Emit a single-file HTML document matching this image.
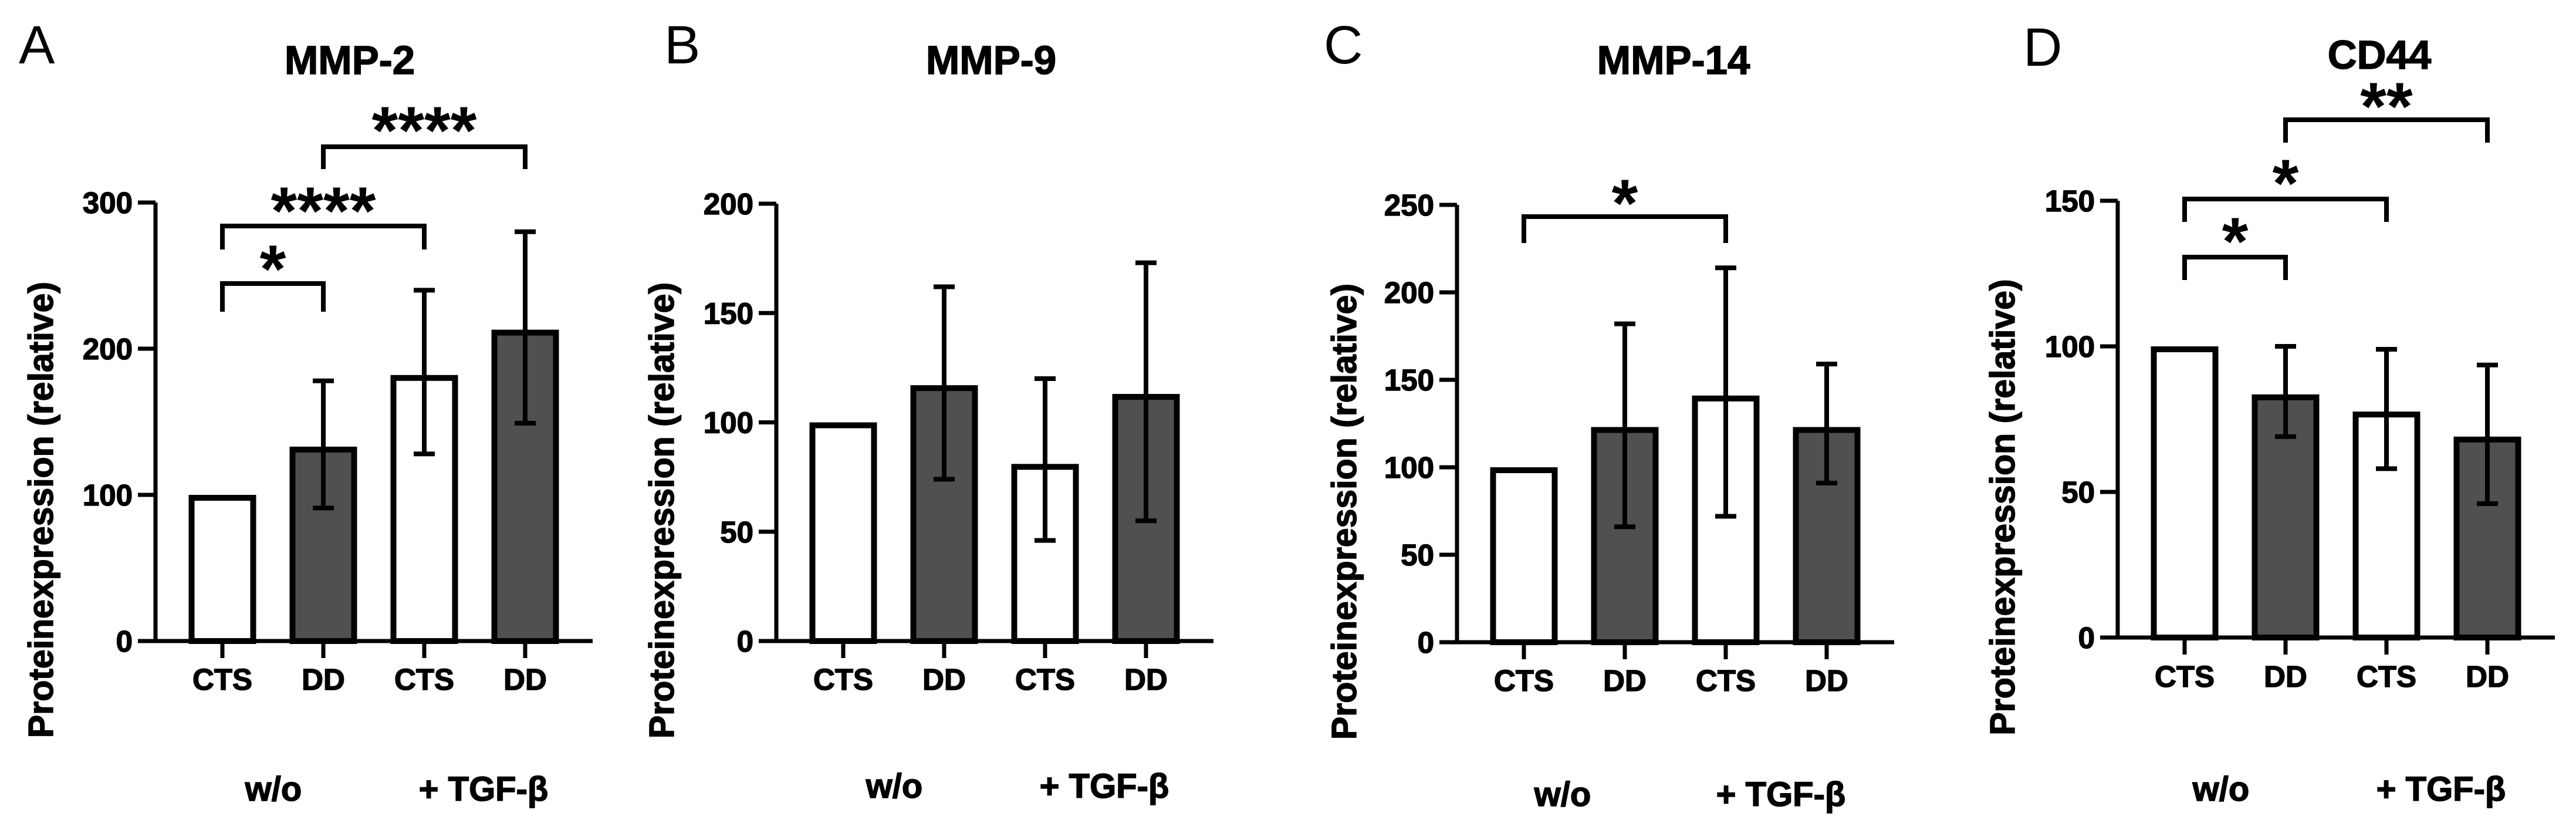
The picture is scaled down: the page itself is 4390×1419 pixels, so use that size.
<!DOCTYPE html>
<html><head><meta charset="utf-8"><style>
html,body{margin:0;padding:0;background:#fff;}
svg{display:block;font-family:"Liberation Sans",Arial,sans-serif;}
.hv{stroke:#000;stroke-width:1.5px;}
</style></head><body>
<svg id="fig" xmlns="http://www.w3.org/2000/svg" width="4390" height="1419" viewBox="0 0 4390 1419"></svg>
<script>
// ---- data ----
const categories = ["CTS","DD","CTS","DD"];
const groupLabels = ["w/o","+ TGF-\u03B2"];
const panelLetters = ["A","B","C","D"];
const panelTitles = ["MMP-2","MMP-9","MMP-14","CD44"];
const yMaxes = [300,200,250,150];
const tickA = [0,100,200,300];
const tickB = [0,50,100,150,200];
const tickC = [0,50,100,150,200,250];
const tickD = [0,50,100,150];
const meanA = [100,133,182,213];
const loA = [100,91,128,149];
const hiA = [100,178,240,280];
const meanB = [100,117,81,113];
const loB = [100,74,46,55];
const hiB = [100,162,120,173];
const meanC = [100,123,141,123];
const loC = [100,66,72,91];
const hiC = [100,182,214,159];
const meanD = [100,83.5,77.6,69];
const loD = [100,69,58,46];
const hiD = [100,100,99,93.6];
// significance brackets: [fromIndex, toIndex, label]
const sigA = [[0,1,"*"],[0,2,"****"],[1,3,"****"]];
const sigB = [];
const sigC = [[0,2,"*"]];
const sigD = [[0,1,"*"],[0,2,"*"],[1,3,"**"]];

// ---- layout ----
const layout = [
  {axisX:265, y0:1092, yTop:345, titleX:596, titleY:126, letterX:32, letterY:108, ylabX:70, woX:466, tgfX:824, grpY:1364, catY:1175,
   brk:[[483,531,432],[385,425,333],[250,288,196]]},
  {axisX:1323, y0:1092, yTop:347, titleX:1689, titleY:126, letterX:1132, letterY:108, ylabX:1128, woX:1524, tgfX:1882, grpY:1359, catY:1175, brk:[]},
  {axisX:2483, y0:1094, yTop:349, titleX:2852, titleY:126, letterX:2256, letterY:108, ylabX:2291, woX:2663, tgfX:3035, grpY:1373, catY:1177,
   brk:[[369,414,320]]},
  {axisX:3609, y0:1086, yTop:342, titleX:4055, titleY:117, letterX:3448, letterY:112, ylabX:3413, woX:3785, tgfX:4160, grpY:1364, catY:1170,
   brk:[[438,477,385],[339,378,286],[204,243,155]]}
];
const ticks=[tickA,tickB,tickC,tickD];
const means=[meanA,meanB,meanC,meanD];
const los=[loA,loB,loC,loD];
const his=[hiA,hiB,hiC,hiD];
const sigs=[sigA,sigB,sigC,sigD];

const NS="http://www.w3.org/2000/svg";
const svg=document.getElementById('fig');
function mk(tag,attrs,parent,text){
  const e=document.createElementNS(NS,tag);
  for(const k in attrs)e.setAttribute(k,attrs[k]);
  if(text!==undefined)e.textContent=text;
  parent.appendChild(e);return e;
}

for(let p=0;p<4;p++){
  const L=layout[p];
  const g=mk('g',{},svg);
  
  
  const yScale=v=>L.y0-(v/yMaxes[p])*(L.y0-L.yTop);
  const xScale=i=>L.axisX+114+i*172;

  let t=mk('text',{x:L.letterX,y:L.letterY,'font-size':92,fill:'#000'},g,panelLetters[p]);
  
  
  t=mk('text',{x:L.titleX,y:L.titleY,'font-size':69,'font-weight':'bold','text-anchor':'middle',class:'hv'},g,panelTitles[p]);
  
  
  t=mk('text',{x:0,y:0,'font-size':59,'font-weight':'bold','text-anchor':'middle',class:'hv',transform:`translate(${L.ylabX+20},${(L.y0+L.yTop)/2+150}) rotate(-90)`},g,"Proteinexpression (relative)");
  
  

  // bars
  for(let i=0;i<4;i++){
    const cx=xScale(i), top=yScale(means[p][i]);
    const r=mk('rect',{x:cx-52.5,y:top+5,width:105,height:L.y0-top-5,fill:(i%2?'#505050':'#fff'),stroke:'#000','stroke-width':10},g);
    
    
    if(his[p][i]!==los[p][i]){
      const eg=mk('g',{stroke:'#000','stroke-width':8},g);
      
      
      mk('line',{x1:cx,x2:cx,y1:yScale(his[p][i]),y2:yScale(los[p][i])},eg);
      mk('line',{x1:cx-18,x2:cx+18,y1:yScale(his[p][i]),y2:yScale(his[p][i])},eg);
      mk('line',{x1:cx-18,x2:cx+18,y1:yScale(los[p][i]),y2:yScale(los[p][i])},eg);
    }
  }
  // axes
  const ax=mk('g',{stroke:'#000','stroke-width':7},g);
  
  
  mk('line',{x1:L.axisX,x2:L.axisX,y1:yScale(yMaxes[p]),y2:L.y0+3},ax);
  mk('line',{x1:L.axisX-30,x2:L.axisX+745,y1:L.y0,y2:L.y0},ax);
  ticks[p].forEach(v=>{
    mk('line',{x1:L.axisX-30,x2:L.axisX,y1:yScale(v),y2:yScale(v)},ax);
    const tl=mk('text',{x:L.axisX-39,y:yScale(v)+18,'font-size':51,'font-weight':'bold','text-anchor':'end',class:'hv'},g,String(v));
    
    
  });
  for(let i=0;i<4;i++){
    mk('line',{x1:xScale(i),x2:xScale(i),y1:L.y0,y2:L.y0+29},ax);
    const cl=mk('text',{x:xScale(i),y:L.catY,'font-size':51,'font-weight':'bold','text-anchor':'middle',class:'hv'},g,categories[i]);
    
    
  }
  t=mk('text',{x:L.woX,y:L.grpY,'font-size':58,'font-weight':'bold','text-anchor':'middle',class:'hv'},g,groupLabels[0]);
  
  
  t=mk('text',{x:L.tgfX,y:L.grpY,'font-size':58,'font-weight':'bold','text-anchor':'middle',class:'hv'},g,groupLabels[1]);
  
  

  // significance
  sigs[p].forEach((s,k)=>{
    const b=L.brk[k];
    const x1=xScale(s[0]), x2=xScale(s[1]);
    const sg=mk('g',{},g);
    
    
    mk('path',{d:`M${x1},${b[1]} L${x1},${b[0]} L${x2},${b[0]} L${x2},${b[1]}`,fill:'none',stroke:'#000','stroke-width':8},sg);
    mk('text',{x:(x1+x2)/2,y:b[2]+66,'font-size':115,'font-weight':'bold','text-anchor':'middle'},sg,s[2]);
  });
}
</script>
</body></html>
